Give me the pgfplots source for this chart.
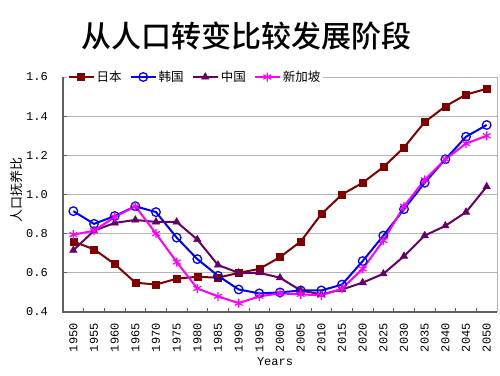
\documentclass[border=0pt]{standalone}
\usepackage{pgfplots}
\pgfplotsset{compat=1.18}
\usepackage{pgfplotstable}
\usepackage{fontspec}
\setmainfont{Liberation Serif}
\newfontfamily\mono{Liberation Mono}
\newfontfamily\cjk{Noto Sans CJK SC}
\newfontfamily\cjkt{Noto Sans CJK SC}[UprightFont={* Medium}]
\definecolor{jpc}{HTML}{800000}
\definecolor{krc}{HTML}{0000FF}
\definecolor{cnc}{HTML}{660066}
\definecolor{sgc}{HTML}{FF00FF}
\definecolor{axc}{HTML}{606060}
\definecolor{gridc}{HTML}{B4B4B4}
\pgfplotstableread{
idx jp kr cn sg
0 0.76 0.915 0.715 0.795
1 0.72 0.85 0.815 0.815
2 0.645 0.89 0.855 0.885
3 0.55 0.94 0.87 0.94
4 0.54 0.91 0.86 0.80
5 0.57 0.78 0.86 0.655
6 0.58 0.67 0.77 0.52
7 0.575 0.585 0.64 0.48
8 0.60 0.515 0.60 0.445
9 0.62 0.495 0.60 0.48
10 0.68 0.50 0.575 0.495
11 0.76 0.51 0.51 0.49
12 0.90 0.51 0.49 0.485
13 1.00 0.54 0.515 0.52
14 1.06 0.66 0.55 0.62
15 1.14 0.79 0.595 0.765
16 1.24 0.925 0.685 0.94
17 1.37 1.06 0.79 1.075
18 1.45 1.18 0.84 1.18
19 1.51 1.295 0.91 1.26
20 1.54 1.355 1.04 1.30
}\data
\begin{document}
\begin{tikzpicture}
\begin{axis}[
  scale only axis,
  width=434pt, height=235pt,
  xmin=-0.5, xmax=20.5,
  ymin=0.4, ymax=1.6,
  xtick={0,...,20},
  xticklabels={1950,1955,1960,1965,1970,1975,1980,1985,1990,1995,2000,2005,2010,2015,2020,2025,2030,2035,2040,2045,2050},
  minor xtick={0.5,1.5,...,19.5},
  ytick={0.4,0.6,...,1.6},
  tick pos=left,
  tick align=inside,
  major tick length=4pt,
  minor tick length=4pt,
  major x tick style={draw=none},
  minor x tick style={axc, line width=1pt},
  major y tick style={axc, line width=1pt},
  ymajorgrids,
  grid style={gridc, line width=0.8pt},
  axis line style={draw=none},
  /pgf/number format/assume math mode=true,
  yticklabel style={/pgf/number format/fixed, /pgf/number format/fixed zerofill, /pgf/number format/precision=1, font=\mono\fontsize{12}{12}\selectfont, inner sep=0pt, anchor=east},
  xticklabel style={font=\mono\fontsize{12}{12}\selectfont, inner sep=0pt, rotate=90, anchor=east},
  yticklabel shift=15pt,
  xticklabel shift=11pt,
  clip=false,
  legend columns=-1,
  legend style={at={(rel axis cs:0.008,1)}, anchor=west, draw=none, fill=white, inner sep=1pt,
    font=\cjk\fontsize{12.5}{13}\selectfont,
    /tikz/every even column/.append style={column sep=6pt}},
  legend image code/.code={\draw[mark repeat=2,mark phase=2,#1] plot coordinates {(0cm,0cm) (0.44cm,0cm) (0.88cm,0cm)};},
]
\draw[gridc, line width=0.8pt] (rel axis cs:0,1) -- (rel axis cs:1,1) -- (rel axis cs:1,0);
\draw[axc, line width=2.5pt] (rel axis cs:0,1) -- (rel axis cs:0,0) -- (rel axis cs:1,0);
\addplot[jpc, line width=2pt, mark=square*, mark size=3.5pt, mark options={fill=jpc, line width=0.5pt}] table[x=idx,y=jp] {\data};
\addlegendentry{日本}
\addplot[krc, line width=2pt, mark=o, mark size=4.3pt, mark options={fill=white, line width=1.3pt}] table[x=idx,y=kr] {\data};
\addlegendentry{韩国}
\addplot[cnc, line width=2pt, mark=triangle*, mark size=4.3pt, mark options={fill=cnc, line width=0.5pt}] table[x=idx,y=cn] {\data};
\addlegendentry{中国}
\addplot[sgc, line width=2pt, mark=asterisk, mark size=4.5pt, mark options={line width=1.2pt}] table[x=idx,y=sg] {\data};
\addlegendentry{新加坡}
\node[font=\cjkt\fontsize{30}{31}\selectfont] at (rel axis cs:0.4228,1.174) {从人口转变比较发展阶段};
\node[font=\cjk\fontsize{13}{13}\selectfont, rotate=90] at (rel axis cs:-0.108,0.519) {人口抚养比};
\node[font=\mono\fontsize{12}{12}\selectfont] at (rel axis cs:0.4885,-0.2128) {Years};
\end{axis}
\pgfresetboundingbox
\path[use as bounding box] ([shift={(-63pt,-63pt)}]current axis.south west) rectangle ([shift={(3pt,77pt)}]current axis.north east);
\end{tikzpicture}
\end{document}
